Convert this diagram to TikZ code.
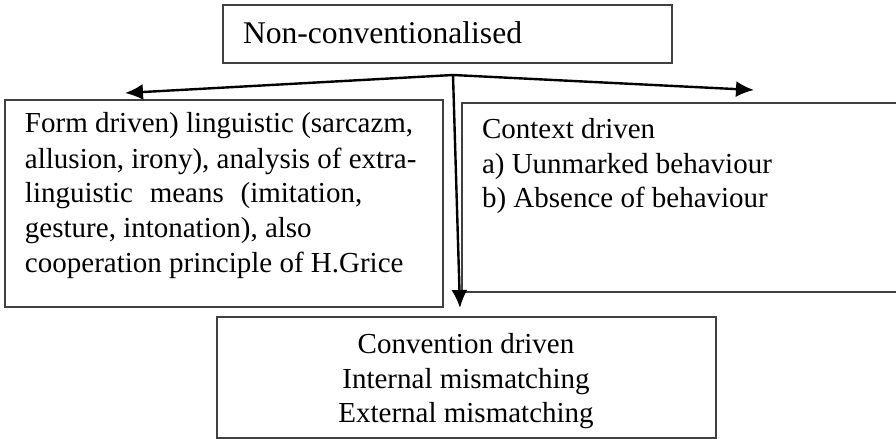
\documentclass[tikz,border=0pt]{standalone}
\usepackage{fontspec}
\setmainfont{Liberation Serif}
\usetikzlibrary{arrows.meta}
\definecolor{boxline}{HTML}{404040}
\tikzset{
  boxnode/.style={draw=boxline, line width=0.75pt, inner sep=0pt, outer sep=0pt, anchor=north west},
  txt/.style={inner sep=0pt, outer sep=0pt, anchor=base west, font=\fontsize{14.5pt}{17.35pt}\selectfont},
  ctxt/.style={inner sep=0pt, outer sep=0pt, anchor=base, font=\fontsize{14.5pt}{17.35pt}\selectfont},
  arr/.style={line width=1.2pt, -{Latex[length=9pt,width=8pt]}}
}
\begin{document}
\begin{tikzpicture}[x=0.5pt,y=-0.5pt]
\useasboundingbox (0,0) rectangle (896,439);
\clip (0,0) rectangle (896,439);
% boxes
\node[boxnode, minimum width=224.5pt, minimum height=29pt] (top) at (223,5) {};
\node[boxnode, minimum width=219pt, minimum height=103.5pt] (left) at (5,100) {};
\node[boxnode, minimum width=230pt, minimum height=94.5pt] (right) at (462,103) {};
\node[boxnode, minimum width=249.5pt, minimum height=60.5pt] (bottom) at (217,317) {};
% texts
\node[txt, font=\fontsize{15.8pt}{19pt}\selectfont] (ttop) at (243,43) {Non-conventionalised};
\node[txt] (l1) at (25,133) {Form driven) linguistic (sarcazm,};
\node[txt] (l2) at (25,168) {allusion, irony), analysis of extra-};
\node[txt] (l3) at (25,202) {linguistic\hspace{8.4pt}means\hspace{8.4pt}(imitation,};
\node[txt] (l4) at (25,237) {gesture, intonation), also};
\node[txt] (l5) at (25,272) {cooperation principle of H.Grice};
\node[txt] (r1) at (482,138) {Context driven};
\node[txt] (r2) at (482,173) {a) Uunmarked behaviour};
\node[txt] (r3) at (482,207) {b) Absence of behaviour};
\node[ctxt] (b1) at (466,353) {Convention driven};
\node[ctxt] (b2) at (466,388) {Internal mismatching};
\node[ctxt] (b3) at (466,422) {External mismatching};
% connectors
\coordinate (br) at (453,75);
\coordinate (tipL) at (125,93);
\coordinate (tipR) at (754,90);
\coordinate (tipD) at (460,308);
\draw[arr] (br) -- (tipL);
\draw[arr] (br) -- (tipR);
\draw[arr] (br) -- (tipD);
\end{tikzpicture}
\end{document}
